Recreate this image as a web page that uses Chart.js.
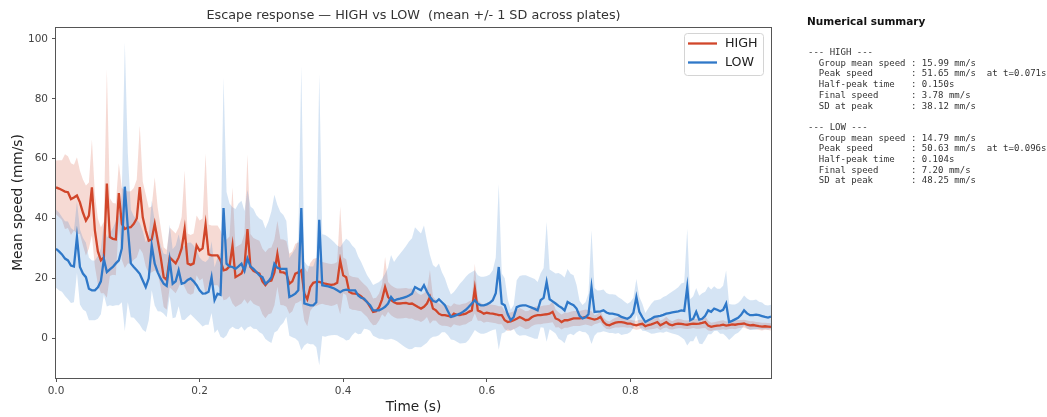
<!DOCTYPE html>
<html><head><meta charset="utf-8">
<script src="https://cdn.jsdelivr.net/npm/chart.js@4.4.1/dist/chart.umd.min.js"></script>
<style>
html,body{margin:0;padding:0;background:#fff;}
#wrap{position:relative;width:1047px;height:417px;overflow:hidden;}
#c{position:absolute;left:0;top:0;}
#sumTitle{position:absolute;left:807px;top:14px;font:bold 10.5px "DejaVu Sans";color:#111;white-space:nowrap;line-height:15px;}
#sum{position:absolute;left:808px;top:47px;margin:0;font:9px "DejaVu Sans Mono";line-height:10.7px;color:#333;white-space:pre;}
</style></head>
<body><div id="wrap"><canvas id="c" width="1047" height="417"></canvas><div id="sumTitle"></div><pre id="sum"></pre></div>
<script>
// ---------- DATA ----------
const frameRate = 240;            // frames per second (t = frame / 240)
const nFrames = 240;
const seriesNames = ['HIGH', 'LOW'];
const chartTitle = 'Escape response \u2014 HIGH vs LOW  (mean +/- 1 SD across plates)';
const xAxisTitle = 'Time (s)';
const yAxisTitle = 'Mean speed (mm/s)';
const xTicks = [0, 0.2, 0.4, 0.6, 0.8];
const yTicks = [0, 20, 40, 60, 80, 100];

const highMean = [
 50.4,50.0,49.5,49.0,48.8,46.5,47.0,47.7,45.4,42.0,
 39.3,41.0,50.4,36.0,29.0,26.0,27.0,51.65,33.8,33.2,
 33.0,48.5,38.2,36.5,37.0,37.1,38.2,40.0,50.5,40.4,
 36.0,32.6,33.0,38.2,32.6,27.0,20.4,19.5,27.0,26.0,
 25.0,27.0,30.0,36.5,25.0,24.5,25.0,31.0,29.3,30.0,
 38.0,28.0,27.7,27.7,27.7,26.0,22.7,23.0,24.0,31.0,
 20.4,21.0,21.6,24.0,36.5,23.8,22.5,22.0,21.6,19.0,
 17.7,19.0,19.3,22.0,28.2,22.1,22.0,21.5,18.2,19.0,
 21.6,22.0,22.7,14.9,13.0,17.1,18.5,18.8,18.8,18.5,
 18.2,18.0,17.8,18.0,18.5,26.0,21.0,20.4,15.5,15.0,
 14.9,14.7,14.0,13.0,12.1,10.5,8.8,9.0,10.4,13.0,
 17.1,13.8,12.7,12.0,11.6,11.6,11.7,11.8,11.5,11.6,
 11.0,10.4,9.9,10.5,11.6,13.8,9.9,9.3,8.2,7.7,
 7.7,7.5,7.1,8.2,7.8,7.7,8.0,8.2,8.8,9.3,
 16.6,9.3,8.8,8.2,8.5,8.3,8.2,8.0,7.7,7.7,
 6.0,5.4,5.6,6.0,6.5,7.1,6.6,6.0,6.2,7.0,
 7.5,7.7,7.7,7.9,8.0,8.2,8.8,6.6,6.2,5.4,
 6.0,6.0,6.3,6.6,6.6,6.6,6.8,7.1,6.8,6.5,
 6.2,6.5,7.1,5.4,4.5,4.3,4.8,5.2,5.4,5.4,
 5.2,4.9,4.9,4.5,4.3,4.6,4.8,4.0,4.4,4.6,
 5.0,5.4,4.3,4.8,5.4,4.6,4.3,4.7,4.9,4.8,
 4.6,4.5,4.7,4.9,4.8,4.9,5.1,5.4,4.2,3.8,
 4.0,4.2,4.3,4.5,4.2,4.4,4.6,4.5,4.7,4.8,
 4.9,4.5,4.3,4.4,4.2,4.0,3.9,4.0,3.9,3.78
];
const highSD = [
 9.0,9.5,10.0,12.5,12.0,12.0,11.0,12.8,10.6,11.0,
 11.7,11.0,16.0,12.0,11.0,11.0,12.0,38.12,13.0,12.0,
 12.0,10.0,12.0,13.0,12.0,12.0,12.0,13.0,20.5,12.0,
 12.0,11.0,11.0,15.6,11.0,10.0,10.0,10.0,10.0,10.0,
 10.0,10.0,10.5,19.5,10.0,10.0,10.0,10.0,10.0,10.0,
 23.6,10.0,10.0,10.0,10.0,10.0,10.0,10.0,10.0,19.4,
 10.0,10.0,10.0,11.0,25.0,11.0,11.0,11.0,11.0,11.0,
 11.0,11.0,11.0,11.0,11.0,11.0,11.0,11.0,10.0,10.0,
 10.0,10.0,10.0,9.0,9.0,8.0,8.0,8.0,7.5,7.0,
 7.0,7.0,7.0,7.0,7.0,18.0,6.0,6.0,5.5,5.5,
 5.5,5.5,5.0,5.0,5.0,5.0,4.5,4.5,4.5,5.0,
 10.0,5.0,5.0,5.0,5.0,5.0,5.0,5.0,5.0,5.0,
 5.0,4.5,4.5,4.5,4.5,9.0,4.0,3.5,3.5,3.5,
 3.5,3.5,3.5,3.5,3.5,3.5,3.5,3.5,3.5,3.5,
 8.3,3.5,3.0,3.0,3.0,3.0,3.0,3.0,3.0,3.0,
 3.0,3.0,3.0,3.0,3.0,3.0,3.0,3.0,3.0,3.0,
 3.0,3.0,3.0,3.0,3.0,3.0,3.5,3.0,2.5,2.5,
 2.5,2.5,2.5,2.5,2.5,2.5,2.5,2.5,2.5,2.5,
 1.5,1.6,1.8,1.5,1.4,1.3,1.5,1.6,1.8,1.7,
 1.5,1.4,1.3,1.4,1.5,1.6,1.4,1.3,1.5,1.6,
 1.8,2.0,1.6,1.5,1.8,1.6,1.4,1.5,1.6,1.5,
 1.4,1.4,1.5,1.5,1.6,1.7,1.8,2.0,1.6,1.4,
 1.3,1.4,1.5,1.5,1.4,1.3,1.4,1.5,1.4,1.3,
 1.3,1.4,1.4,1.3,1.2,1.3,1.3,1.2,1.2,1.2
];
const lowMean = [
 29.9,29.0,28.0,26.6,26.0,24.3,24.0,33.8,23.8,21.6,
 20.4,16.5,16.0,16.0,17.0,19.0,26.5,22.1,23.0,23.8,
 25.0,26.0,30.0,50.63,37.0,25.0,23.8,22.7,21.5,19.3,
 17.1,20.0,31.0,24.9,22.0,19.9,18.2,17.5,26.0,18.2,
 19.0,22.7,18.2,18.5,19.5,20.0,19.0,17.7,16.0,14.9,
 15.0,15.5,20.4,12.7,14.9,14.5,43.5,24.9,24.0,23.8,
 23.2,24.0,24.9,22.5,26.6,24.0,23.2,22.1,21.0,20.4,
 18.2,19.0,20.4,24.9,23.5,23.2,23.2,23.2,13.8,14.3,
 14.9,16.0,43.5,11.6,11.3,11.0,11.0,12.0,39.6,17.7,
 17.5,17.3,17.0,16.6,16.0,15.4,16.0,16.2,16.0,16.0,
 16.0,14.3,13.5,13.2,12.0,11.0,9.3,9.3,9.3,9.8,
 10.5,11.6,13.8,12.5,13.0,13.2,13.5,13.8,14.3,14.9,
 17.1,16.5,16.0,17.7,15.5,13.8,12.5,12.1,13.0,12.0,
 11.0,9.0,7.1,7.4,7.8,8.2,8.8,9.5,10.5,11.6,
 12.7,11.5,11.0,11.0,11.3,11.8,12.7,15.0,23.8,11.6,
 11.0,8.0,6.0,7.1,10.4,10.8,11.0,11.0,10.6,10.2,
 9.8,9.3,12.7,13.5,18.8,13.0,12.3,11.6,10.8,10.2,
 9.3,12.1,11.5,11.0,9.9,7.5,6.6,7.0,8.0,17.1,
 8.8,8.9,9.0,9.3,8.6,8.2,8.2,8.0,7.7,7.1,
 6.8,6.5,7.1,8.5,13.8,8.8,7.0,5.4,6.0,6.5,
 7.1,7.3,7.5,7.8,8.2,8.4,8.6,8.8,9.0,9.3,
 9.1,17.1,6.0,6.5,8.8,6.2,6.5,7.5,9.3,8.8,
 9.9,9.5,9.0,9.5,11.6,5.4,5.8,6.3,6.8,7.8,
 9.3,8.3,7.7,7.7,7.9,7.7,7.4,7.1,6.9,7.2
];
const lowSD = [
 13,13,12.5,12.5,13,12.5,12,12,12.5,12,
 11.5,10.5,10,10,10.5,11,12,11.5,12,13,
 14,15,18,48.25,25,18,17,17,17,16.5,
 15,14,15,14,13,11,10,10.5,12,11.5,
 12,12,12,12.4,12.4,12,12,11.7,11,11,
 10.5,11,12,11,12,14,43.5,24,21,20,
 20,21,21,20,23,20,20,19,19,19,
 18.5,20,22,23,21,19,18,16,13,14,
 15,17,47.5,14,13,13,13,15,48.6,17,
 17,16.5,16,15.5,15,15,16,17,16.5,15,
 14,13,12,10,9,8.5,8.5,9,9.5,10,
 11,12,14,13,14,15,16,17,18,18.5,
 20,19.5,19,20,17,14,12,11.5,12,10,
 9,8,7.5,8,9,10,10.5,11,11,10.5,
 10,9.5,9.5,9.5,9.5,9.5,10,12,27.7,10,
 9,5,3.5,4,9,10,10,10,10,10,
 10,9.5,9,10,20,10,10,10,11,11,
 11,11,10,10,8,5,4.5,5,7,19,
 8,7,7,7,6.5,6.5,6.5,6.5,6,6,
 5.5,5,5,5,6,5,4.5,3,4,5,
 5.5,5.5,5.5,6,6,6.5,7,7.5,8,9,
 9.5,19.5,7,7.5,8,8,8.5,8,8,7.5,
 7.5,7,7.5,8,11,6,5.5,5,5,5,
 5,5,5,5,5,4.5,4.5,4,4,4
];

const summaryTitle = 'Numerical summary';
const summaryLines = [
 '--- HIGH ---',
 '  Group mean speed : 15.99 mm/s',
 '  Peak speed       : 51.65 mm/s  at t=0.071s',
 '  Half-peak time   : 0.150s',
 '  Final speed      : 3.78 mm/s',
 '  SD at peak       : 38.12 mm/s',
 '',
 '--- LOW ---',
 '  Group mean speed : 14.79 mm/s',
 '  Peak speed       : 50.63 mm/s  at t=0.096s',
 '  Half-peak time   : 0.104s',
 '  Final speed      : 7.20 mm/s',
 '  SD at peak       : 48.25 mm/s'
];

// ---------- BUILD ----------
document.getElementById('sumTitle').textContent = summaryTitle;
document.getElementById('sum').textContent = summaryLines.join('\n');

const times = Array.from({length: nFrames}, (_, i) => i / frameRate);
const pts = arr => arr.map((v, i) => ({x: times[i], y: v}));
const upper = (m, s) => m.map((v, i) => ({x: times[i], y: v + s[i]}));
const lower = (m, s) => m.map((v, i) => ({x: times[i], y: v - s[i]}));

const HIGH_C = '#d1462a', LOW_C = '#2f78c8';
const HIGH_F = 'rgba(209,70,42,0.2)', LOW_F = 'rgba(47,120,200,0.2)';

const bandDs = (data, fill, color, order) => ({data, fill, backgroundColor: color, borderWidth: 0, pointRadius: 0, order});

const datasets = [
  bandDs(upper(highMean, highSD), '+1', HIGH_F, 4),
  bandDs(lower(highMean, highSD), false, HIGH_F, 4),
  bandDs(upper(lowMean, lowSD), '+1', LOW_F, 3),
  bandDs(lower(lowMean, lowSD), false, LOW_F, 3),
  {label: seriesNames[0], legend: true, data: pts(highMean), borderColor: HIGH_C, borderWidth: 2.3, pointRadius: 0, fill: false, order: 1},
  {label: seriesNames[1], legend: true, data: pts(lowMean), borderColor: LOW_C, borderWidth: 2.3, pointRadius: 0, fill: false, order: 0}
];

const FONT = '"DejaVu Sans", sans-serif';

const decor = {
  id: 'decor',
  afterDraw(chart) {
    const {ctx, chartArea: a} = chart;
    ctx.save();
    // frame (all four spines)
    ctx.strokeStyle = '#555'; ctx.lineWidth = 1;
    ctx.strokeRect(Math.round(a.left) - 0.5, Math.round(a.top) + 0.5, Math.round(a.right - a.left) + 1, Math.round(a.bottom - a.top) - 0.0);
    // title
    ctx.fillStyle = '#333';
    ctx.font = '12.8px ' + FONT;
    ctx.textAlign = 'center'; ctx.textBaseline = 'middle';
    ctx.fillText(chartTitle, (a.left + a.right) / 2, 16);
    // legend
    const items = chart.data.datasets.filter(d => d.legend);
    const bw = 79, bh = 42;
    const x0 = a.right - 8 - bw, y0 = a.top + 6;
    ctx.beginPath();
    if (ctx.roundRect) ctx.roundRect(x0 + 0.5, y0 + 0.5, bw, bh, 3); else ctx.rect(x0 + 0.5, y0 + 0.5, bw, bh);
    ctx.fillStyle = 'rgba(255,255,255,0.85)'; ctx.fill();
    ctx.strokeStyle = '#d4d4d4'; ctx.lineWidth = 1; ctx.stroke();
    ctx.font = '12.7px ' + FONT;
    ctx.textAlign = 'left';
    items.forEach((d, i) => {
      const y = y0 + 10.5 + i * 19;
      ctx.strokeStyle = d.borderColor; ctx.lineWidth = 2.3;
      ctx.beginPath(); ctx.moveTo(x0 + 4, y); ctx.lineTo(x0 + 33, y); ctx.stroke();
      ctx.fillStyle = '#222';
      ctx.fillText(d.label, x0 + 41, y + 0.5);
    });
    ctx.restore();
  }
};

new Chart(document.getElementById('c'), {
  type: 'line',
  data: {datasets},
  options: {
    responsive: false,
    animation: false,
    events: [],
    layout: {padding: {left: 0, top: 27, right: 276, bottom: 0}},
    plugins: {legend: {display: false}, title: {display: false}, tooltip: {enabled: false}},
    scales: {
      x: {
        type: 'linear', min: 0, max: times[nFrames - 1],
        afterFit: s => { s.height = 39; },
        afterBuildTicks: s => { s.ticks = xTicks.map(v => ({value: v})); },
        border: {display: false},
        grid: {display: true, drawOnChartArea: false, drawTicks: true, tickLength: 4, color: '#555'},
        ticks: {font: {family: FONT, size: 10.5}, color: '#444', padding: 3, maxRotation: 0, callback: v => Number(v).toFixed(1)},
        title: {display: true, text: xAxisTitle, font: {family: FONT, size: 13.7}, color: '#222', padding: {top: 0, bottom: 1}}
      },
      y: {
        type: 'linear', min: -13.3, max: 104,
        afterFit: s => { s.width = 56; },
        afterBuildTicks: s => { s.ticks = yTicks.map(v => ({value: v})); },
        border: {display: false},
        grid: {display: true, drawOnChartArea: false, drawTicks: true, tickLength: 4, color: '#555'},
        ticks: {font: {family: FONT, size: 10.5}, color: '#444', padding: 4, callback: v => String(v)},
        title: {display: true, text: yAxisTitle, font: {family: FONT, size: 13.7}, color: '#222', padding: {top: 10, bottom: 0}}
      }
    }
  },
  plugins: [decor]
});
</script>
</body></html>
